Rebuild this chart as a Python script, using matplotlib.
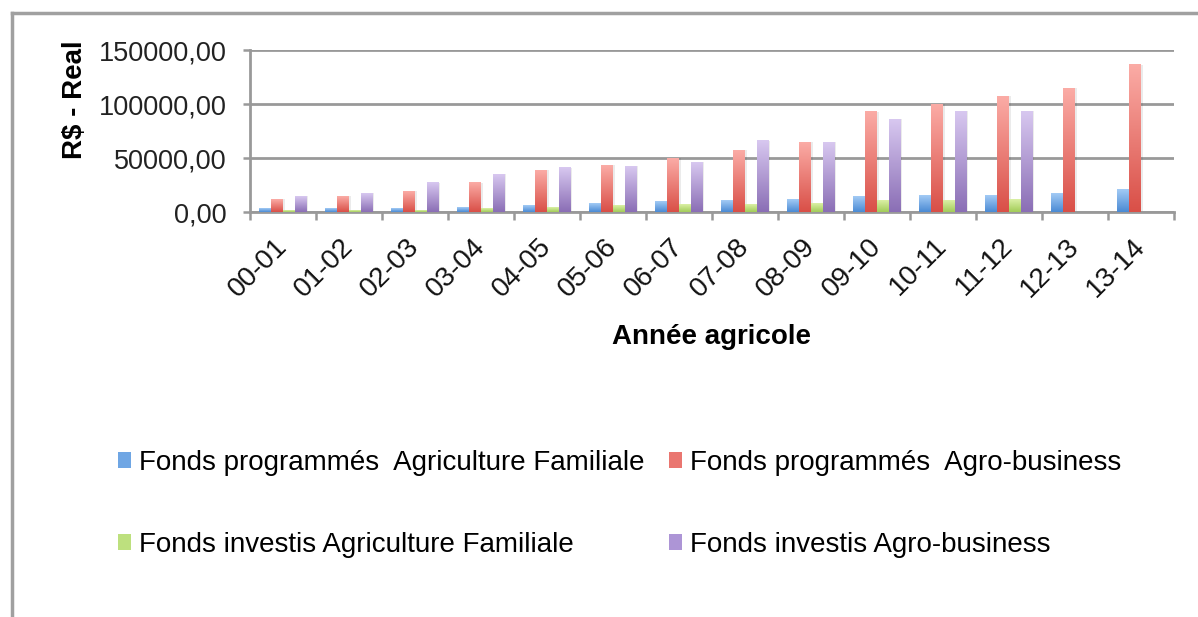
import numpy as np
import matplotlib
matplotlib.use("Agg")
import matplotlib.pyplot as plt
from matplotlib.colors import LinearSegmentedColormap
from matplotlib.lines import Line2D
from matplotlib.patches import Patch

plt.rcParams['font.family'] = ['Liberation Sans', 'DejaVu Sans']

years = ['00-01', '01-02', '02-03', '03-04', '04-05', '05-06', '06-07',
         '07-08', '08-09', '09-10', '10-11', '11-12', '12-13', '13-14']
prog_af = [3000, 3000, 3200, 4600, 5800, 8300, 9500, 10500, 11700, 14500, 15700, 15700, 17000, 21000]
prog_ab = [11800, 14800, 19400, 27100, 38600, 43500, 50000, 57400, 64800, 92600, 100000, 107400, 114800, 136300]
inv_af = [1500, 1500, 1500, 3000, 4600, 5800, 7400, 7100, 8000, 10500, 10500, 11700, np.nan, np.nan]
inv_ab = [14800, 17300, 27100, 34900, 41000, 42300, 46000, 66000, 64800, 86100, 93500, 93500, np.nan, np.nan]
y_ticks = [0, 50000, 100000, 150000]

labels = ['Fonds programmés  Agriculture Familiale', 'Fonds programmés  Agro-business',
          'Fonds investis Agriculture Familiale', 'Fonds investis Agro-business']
# (light top, dark bottom, legend colour)
colors = [('#a3cbf5', '#4a8ad4', '#6fa6e4'),
          ('#fbaca6', '#d94f47', '#ea7670'),
          ('#dbf0a6', '#a2cc58', '#bde07e'),
          ('#d8c8f0', '#8a6eb5', '#ad95d6')]

fig = plt.figure(figsize=(11.98, 6.17), dpi=100)
ax = fig.add_axes([250 / 1198, 1 - 212 / 617, (1174 - 250) / 1198, 162 / 617])

x = np.arange(len(years))
w = 0.18
series = [prog_af, prog_ab, inv_af, inv_ab]
offsets = [-1.5 * w, -0.5 * w, 0.5 * w, 1.5 * w]
grad = np.linspace(0, 1, 256).reshape(-1, 1)

for vals, off, (top, bot, _) in zip(series, offsets, colors):
    bars = ax.bar(x + off, vals, w, color='none', zorder=3)
    cmap = LinearSegmentedColormap.from_list('g', [bot, top])
    for b in bars:
        h = b.get_height()
        if not np.isfinite(h) or h <= 0:
            continue
        bx = b.get_x()
        # soft shadow
        ax.bar(bx + w / 2 + 0.025, h, w, bottom=0, color='#000000', alpha=0.08, zorder=2)
        ax.imshow(grad, extent=[bx, bx + w, 0, h], origin='lower', cmap=cmap,
                  aspect='auto', zorder=3, interpolation='bilinear')

ax.set_xlim(-0.5, len(years) - 0.5)
ax.set_ylim(0, 150000)
ax.set_yticks(y_ticks)
ax.set_yticklabels(['0,00', '50000,00', '100000,00', '150000,00'], fontsize=19.5, color='#222222')
ax.set_xticks(x)
ax.set_xticklabels(years, rotation=45, ha='right', va='center', rotation_mode='anchor',
                   fontsize=20, color='#111111')
ax.set_xticks(np.arange(-0.5, len(years)), minor=True)
ax.tick_params(axis='x', which='major', length=0, pad=22)
ax.tick_params(axis='x', which='minor', length=6, width=1.8, color='#999999', direction='out')
ax.tick_params(axis='y', length=5, width=1.8, color='#999999', pad=12)

ax.grid(axis='y', color='#999999', linewidth=2, zorder=1)
ax.set_axisbelow(True)
for s in ['top', 'right']:
    ax.spines[s].set_visible(False)
for s in ['left', 'bottom']:
    ax.spines[s].set_color('#999999')
    ax.spines[s].set_linewidth(2)

fig.text(75 / 1198, 1 - 100 / 617, 'R$ - Real', rotation=90, ha='center', va='center',
         fontsize=20, fontweight='bold')
fig.text(712 / 1198, 1 - 337 / 617, 'Année agricole', ha='center', va='center',
         fontsize=20, fontweight='bold')

handles = [Patch(facecolor=c[2], edgecolor='none') for c in colors]
order = [0, 2, 1, 3]  # legend fills column-wise; keep row order of the original
fig.legend([handles[i] for i in order], [labels[i] for i in order], ncol=2, loc='upper left',
           bbox_to_anchor=(118 / 1198, 1 - 450 / 617),
           frameon=False, fontsize=20, handlelength=0.45, handleheight=0.5,
           handletextpad=0.3, columnspacing=0.9, labelspacing=2.0, borderpad=0, borderaxespad=0)

# outer frame (left and top only)
fig.add_artist(Line2D([12 / 1198, 12 / 1198], [0, 1 - 13 / 617], transform=fig.transFigure,
                      color='#a0a0a0', linewidth=2.5))
fig.add_artist(Line2D([12 / 1198, 1], [1 - 13 / 617, 1 - 13 / 617], transform=fig.transFigure,
                      color='#a0a0a0', linewidth=2.5))

fig.savefig('out.png', dpi=100)
